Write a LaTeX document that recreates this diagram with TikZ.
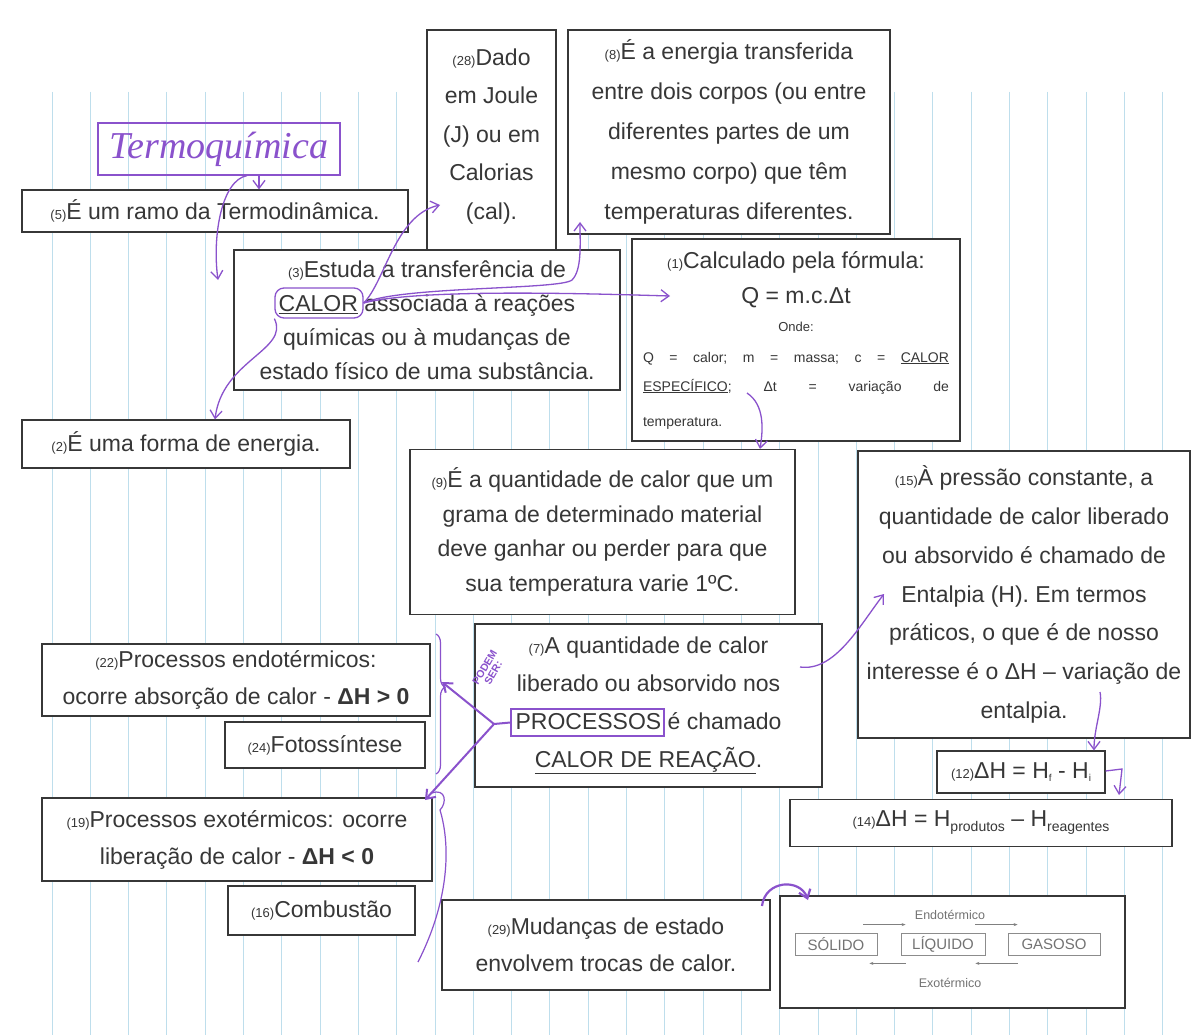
\documentclass[tikz,border=0pt]{standalone}
\usepackage{fontspec}
\setmainfont{Liberation Sans}
\newfontfamily\manuscrita{Liberation Serif}
\usetikzlibrary{positioning,decorations.pathreplacing,arrows.meta}
\definecolor{caneta}{RGB}{138,82,204}
\definecolor{pauta}{RGB}{190,222,236}
\definecolor{tinta}{RGB}{55,55,55}
\tikzstyle{caixa}=[draw=tinta,line width=1.1pt,fill=white,inner sep=0pt,align=center,text=tinta]
\tikzstyle{seta}=[draw=caneta,line width=1.3pt,->]
\newcommand{\nr}[1]{{\fontsize{13}{13}\selectfont(#1)}}
\newcommand{\fs}[1]{\fontsize{23}{#1}\selectfont}
\newcommand{\ind}[1]{\raisebox{-5pt}{\fontsize{14}{14}\selectfont #1}}
\newcommand{\pq}[1]{{\fontsize{14}{14}\selectfont\makebox[306pt]{#1}}}

\begin{document}
\begin{tikzpicture}[x=1pt,y=-1pt,>={Straight Barb[length=8pt,width=12pt]}]
    \tikzstyle{fase}=[draw=black!45,line width=0.8pt,minimum height=22,inner sep=0pt,text=black!55,font=\fontsize{15}{15}\selectfont]
    \tikzstyle{fina}=[draw=black!50,line width=0.6pt,-{Stealth[length=4pt,width=3pt]}]
    \path[use as bounding box,fill=white] (0,0) rectangle (1197,1035);
    % pauta do caderno
    \foreach \i in {0,...,29}
        \draw[pauta,line width=1pt] (52+38.3*\i,92) -- (52+38.3*\i,1035);

    \node[draw=caneta,line width=1.3pt,minimum width=242,minimum height=52,inner sep=0pt,text=caneta,font=\manuscrita\itshape\fontsize{38}{38}\selectfont] (termo) at (219,149) {Termoquímica};
    \node[caixa,minimum width=386,minimum height=42,font=\fs{38}] (c5) at (215,211) {\nr{5}É um ramo da Termodinâmica.};
    \node[caixa,minimum width=129,minimum height=230,font=\fs{38.5}] (c28) at (491.5,145) {\nr{28}Dado\\em Joule\\(J) ou em\\Calorias\\(cal).\\[-16pt]\mbox{}};
    \node[caixa,minimum width=322,minimum height=204,font=\fs{40}] (c8) at (729,132) {\nr{8}É a energia transferida\\entre dois corpos (ou entre\\diferentes partes de um\\mesmo corpo) que têm\\temperaturas diferentes.};
    \node[caixa,minimum width=386,minimum height=140,font=\fs{34}] (c3) at (427,320) {\nr{3}Estuda a transferência de\\\underline{CALOR} associada à reações\\químicas ou à mudanças de\\estado físico de uma substância.};
    \node[caixa,minimum width=328,minimum height=202,font=\fs{30}] (c1) at (796,340) {\nr{1}Calculado pela fórmula:\\[5pt]
        Q = m.c.Δt\\[-2pt]
        {\fontsize{13}{13}\selectfont Onde:}\\[1pt]
        \pq{Q\hfill=\hfill calor;\hfill m\hfill=\hfill massa;\hfill c\hfill=\hfill\underline{CALOR}}\\[-1pt]
        \pq{\underline{ESPECÍFICO};\hfill Δt\hfill=\hfill variação\hfill de}\\[5pt]
        \pq{temperatura.\hfill}};
    \node[caixa,minimum width=328,minimum height=48,font=\fs{38}] (c2) at (186,444) {\nr{2}É uma forma de energia.};
    \node[caixa,minimum width=385,minimum height=165,font=\fs{34.5}] (c9) at (602.5,532) {\nr{9}É a quantidade de calor que um\\grama de determinado material\\deve ganhar ou perder para que\\sua temperatura varie 1ºC.};
    \node[caixa,minimum width=332,minimum height=287,font=\fs{38.8}] (c15) at (1024,594.5) {\nr{15}À pressão constante, a\\quantidade de calor liberado\\ou absorvido é chamado de\\Entalpia (H). Em termos\\práticos, o que é de nosso\\interesse é o ΔH – variação de\\entalpia.};
    \node[caixa,minimum width=168,minimum height=42,font=\fs{30}] (c12) at (1021,772) {\nr{12}ΔH = H{\fontsize{10}{10}\selectfont\raisebox{-3pt}{f}} - H{\fontsize{10}{10}\selectfont\raisebox{-3pt}{i}}};
    \node[caixa,minimum width=382,minimum height=47,font=\fs{30}] (c14) at (981,823) {\nr{14}ΔH = H\ind{produtos} – H\ind{reagentes}};
    \node[caixa,minimum width=347,minimum height=163,font=\fs{38}] (c7) at (648.5,705.5) {\nr{7}A quantidade de calor\\liberado ou absorvido nos\\PROCESSOS é chamado\\\underline{CALOR DE REAÇÃO}.};
    \node[caixa,minimum width=388,minimum height=72,font=\fs{37}] (c22) at (236,680) {\nr{22}Processos endotérmicos:\\ocorre absorção de calor - \textbf{ΔH > 0}};
    \node[caixa,minimum width=200,minimum height=46,font=\fs{30}] (c24) at (325,745) {\nr{24}Fotossíntese};
    \node[caixa,minimum width=390,minimum height=83,font=\fs{37}] (c19) at (237,839.5) {\nr{19}Processos exotérmicos: ocorre\\liberação de calor - \textbf{ΔH < 0}};
    \node[caixa,minimum width=187,minimum height=49,font=\fs{30}] (c16) at (321.5,910.5) {\nr{16}Combustão};
    \node[caixa,minimum width=328,minimum height=90,font=\fs{37}] (c29) at (606,945) {\nr{29}Mudanças de estado\\envolvem trocas de calor.};

    % quadro dos estados
    \node[caixa,minimum width=345,minimum height=112] (estados) at (952.5,952) {};
    \node[fase,minimum width=82] (solido) at (836,944) {SÓLIDO};
    \node[fase,minimum width=84] (liquido) at (943,944) {LÍQUIDO};
    \node[fase,minimum width=92] (gasoso) at (1054,944) {GASOSO};
    \node[text=black!55,font=\fontsize{12.5}{12.5}\selectfont] (endo) at (950,915) {Endotérmico};
    \node[text=black!55,font=\fontsize{12.5}{12.5}\selectfont] (exo) at (950,983) {Exotérmico};
    \draw[fina] ([xshift=-14pt,yshift=8pt]solido.north east) -- ([xshift=5pt,yshift=8pt]liquido.north west);
    \draw[fina] ([xshift=-10pt,yshift=8pt]liquido.north east) -- ([xshift=10pt,yshift=8pt]gasoso.north west);
    \draw[fina] ([xshift=5pt,yshift=-8pt]liquido.south west) -- ([xshift=-8pt,yshift=-8pt]solido.south east);
    \draw[fina] ([xshift=10pt,yshift=-8pt]gasoso.south west) -- ([xshift=-10pt,yshift=-8pt]liquido.south east);

    % anotacoes a caneta
    \node[draw=caneta,line width=1.3pt,rounded corners=9pt,minimum width=88,minimum height=30] (nuvem) at (319,303) {};
    \node[draw=caneta,line width=1.3pt,minimum width=153,minimum height=27] (proc) at (587.5,722.5) {};
    \coordinate (calor) at (nuvem.east);
    \coordinate (ramo) at (494,724);
    \coordinate (t1) at ([xshift=40pt]termo.south);
    \coordinate (t2) at ([xshift=28pt]termo.south);
    \draw[seta] (t1) -- (c5.north -| t1);
    \draw[seta] (t2) .. controls (222,180) and (212,235) .. (218,280);
    \draw[seta] (calor) .. controls (385,282) and (395,215) .. (440,205);
    \draw[seta] (calor) .. controls (400,286) and (560,290) .. (572,280) .. controls (582,270) and (580,245) .. (580,222);
    \draw[seta] (calor) .. controls (420,288) and (600,294) .. (670,296);
    \draw[seta] (nuvem.south west) .. controls (290,350) and (222,360) .. (c2.north -| 215,0);
    \draw[seta] (747,393) .. controls (765,405) and (763,430) .. (c9.north -| 760,0);
    \draw[seta] (800,667) .. controls (835,672) and (860,625) .. (884,594);
    \draw[seta] (1100,692) .. controls (1103,707) and (1094,728) .. (c12.north -| 1094,0);
    \draw[seta] (c12.east |- 0,771) -- (1122,769) -- (1119,795);
    \draw[seta,line width=2.2pt] (762,906) .. controls (765,880) and (800,878) .. (808,900);
    \draw[caneta,line width=2pt] (proc.west) -- (ramo);
    \draw[seta,line width=2pt] (ramo) -- (442,682);
    \draw[seta,line width=2pt] (ramo) -- (425,800);
    \node[text=caneta,rotate=60,font=\fontsize{10.5}{10}\selectfont\bfseries,align=center] (podem) at (489,670) {PODEM\\SER:};
    \draw[caneta,line width=1.2pt,decorate,decoration={brace,amplitude=9pt,aspect=0.38}] (436,634) -- (436,774);
    \draw[caneta,line width=1.2pt] (432,793) .. controls (446,788) and (447,803) .. (440,810) .. controls (452,850) and (447,905) .. (418,962);
\end{tikzpicture}
\end{document}
